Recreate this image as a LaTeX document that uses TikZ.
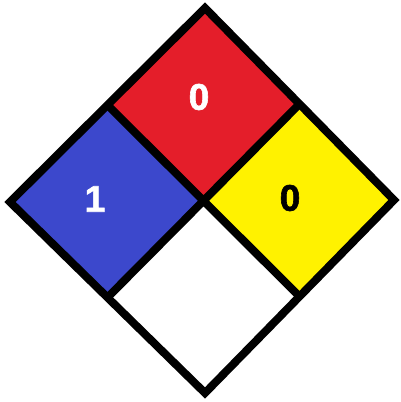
\documentclass[tikz,border=0pt]{standalone}
\usepackage{fontspec}
\setmainfont{Liberation Sans}
\newfontfamily\heavyfont{Liberation Sans}[UprightFont=*-Bold, FakeBold=1.6]
\usepackage{xcolor}
\usetikzlibrary{calc}
\definecolor{firered}{RGB}{228,30,42}
\definecolor{healthblue}{RGB}{60,72,204}
\definecolor{reactyellow}{RGB}{255,242,0}
\tikzset{
    x=1pt, y=-1pt,
    border/.style={line width=8pt, line join=miter},
    rating/.style={font=\heavyfont\fontsize{37}{37}\selectfont, inner sep=0pt},
}

\begin{document}
\begin{tikzpicture}
    \useasboundingbox (0,0) rectangle (401,402);
    \coordinate (t) at (205,8);
    \coordinate (l) at (10,202);
    \coordinate (r) at (394,200);
    \coordinate (b) at (205,393);
    \coordinate (tl) at ($(t)!0.5!(l)$);
    \coordinate (tr) at ($(t)!0.5!(r)$);
    \coordinate (lb) at ($(l)!0.5!(b)$);
    \coordinate (rb) at ($(r)!0.5!(b)$);
    \coordinate (c) at ($(tl)+(tr)-(t)$);

    \fill[firered]     (t) -- (tr) -- (c) -- (tl) -- cycle;
    \fill[healthblue]  (tl) -- (c) -- (lb) -- (l) -- cycle;
    \fill[reactyellow] (tr) -- (r) -- (rb) -- (c) -- cycle;
    \fill[white]       (c) -- (rb) -- (b) -- (lb) -- cycle;

    \draw[border] (tl) -- (rb) (tr) -- (lb);
    \draw[border] (t) -- (r) -- (b) -- (l) -- cycle;

    \node[rating, white] (fire)   at (199,97)  {0};
    \node[rating, white] (health) at (95,199)  {1};
    \node[rating, black] (react)  at (290,198) {0};
\end{tikzpicture}
\end{document}
